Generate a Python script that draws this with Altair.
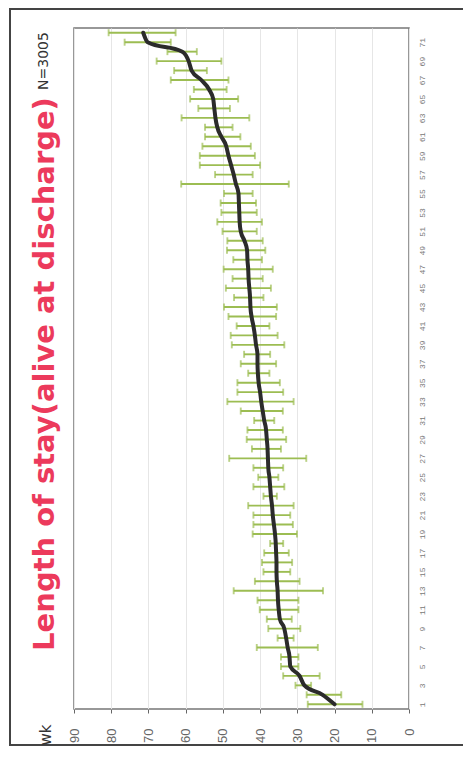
import altair as alt
import pandas as pd

# ---- data ----
weeks = list(range(1, 73))
mean_los = [20.0, 23.2, 28.1, 29.4, 31.9, 32.1, 32.6, 33.0, 33.5, 34.7,
            35.0, 35.2, 35.3, 35.5, 35.6, 35.6, 35.7, 35.8, 36.0, 36.3,
            36.6, 36.8, 37.1, 37.3, 37.5, 37.8, 37.9, 38.0, 38.2, 38.4,
            38.9, 39.3, 39.7, 40.0, 40.4, 40.6, 40.7, 40.7, 41.1, 41.4,
            41.8, 42.3, 42.6, 42.7, 42.9, 43.1, 43.2, 43.4, 43.5, 44.2,
            45.2, 45.5, 45.6, 45.7, 45.8, 46.5, 47.1, 47.8, 48.5, 49.1,
            50.4, 51.5, 52.0, 52.3, 52.6, 53.7, 55.8, 58.4, 59.2, 60.9,
            70.2, 71.4]
ci_low = [12.5, 18.2, 26.3, 24.0, 29.7, 29.7, 24.5, 31.0, 29.2, 31.5,
          29.7, 29.7, 23.1, 29.4, 31.9, 31.4, 32.3, 33.8, 30.1, 31.2,
          31.9, 31.0, 35.5, 33.5, 35.1, 33.8, 27.6, 34.4, 33.0, 33.9,
          36.2, 33.9, 31.0, 33.8, 34.7, 37.5, 35.7, 37.3, 33.5, 35.3,
          37.5, 35.7, 35.5, 39.1, 37.1, 39.3, 36.6, 39.5, 38.6, 39.3,
          40.9, 39.5, 40.9, 41.1, 42.0, 32.3, 42.0, 40.0, 41.4, 42.5,
          45.3, 47.4, 42.9, 48.1, 45.9, 49.0, 48.5, 54.3, 50.4, 57.0,
          64.0, 62.7]
ci_high = [27.2, 27.5, 30.5, 33.8, 34.4, 34.4, 40.9, 35.3, 37.8, 38.2,
           40.1, 40.7, 47.1, 41.4, 39.1, 39.5, 38.9, 37.3, 42.0, 41.8,
           41.8, 43.2, 39.1, 41.8, 40.5, 41.8, 48.3, 42.2, 43.6, 43.4,
           41.6, 45.2, 48.8, 46.1, 46.1, 43.2, 45.2, 44.3, 47.6, 47.9,
           46.3, 48.5, 49.7, 47.0, 49.2, 47.4, 49.8, 47.2, 48.9, 48.8,
           50.1, 51.5, 50.4, 50.6, 49.7, 61.2, 52.1, 56.2, 56.2, 55.5,
           54.8, 54.8, 61.1, 56.6, 58.8, 57.8, 64.0, 63.1, 67.8, 64.9,
           76.4, 80.7]
value_ticks = [0, 10, 20, 30, 40, 50, 60, 70, 80, 90]
week_ticks = list(range(1, 72, 2))
title_text = ["Length of stay(alive at discharge)"]
n_text = ["N=3005"]
axis_text = ["wk"]

df = pd.DataFrame({"wk": weeks, "mean": mean_los, "lo": ci_low, "hi": ci_high})

GREEN = "#9cbd52"
xs = alt.Scale(domain=[0, 90], reverse=True, nice=False)
ys = alt.Scale(domain=[0.5, 72.5], nice=False, zero=False)

xaxis = alt.Axis(values=value_ticks, orient="bottom", labelAngle=270,
                 labelAlign="right", labelBaseline="middle", labelPadding=15,
                 labelOverlap=False, labelFlush=False, labelBound=False,
                 tickSize=4, tickColor="#666", grid=True, gridColor="#e6e6e6",
                 domain=False, labelFont="Liberation Sans", labelFontSize=13,
                 labelColor="#666", title=None)
yaxis = alt.Axis(values=week_ticks, orient="right", labelAngle=270,
                 labelAlign="center", labelBaseline="top", labelPadding=9,
                 labelOverlap=False, labelFlush=False, labelBound=False,
                 ticks=False, grid=False, domain=False,
                 labelFont="Liberation Mono", labelFontSize=8,
                 labelColor="#777", title=None)

base = alt.Chart(df)
bars = base.mark_rule(color=GREEN, strokeWidth=1.9).encode(
    x=alt.X("lo:Q", scale=xs, axis=xaxis),
    x2="hi:Q",
    y=alt.Y("wk:Q", scale=ys, axis=yaxis),
)
cap_lo = base.mark_tick(orient="vertical", color=GREEN, size=7, thickness=1.9).encode(
    x=alt.X("lo:Q", scale=xs, axis=xaxis), y=alt.Y("wk:Q", scale=ys, axis=yaxis))
cap_hi = base.mark_tick(orient="vertical", color=GREEN, size=7, thickness=1.9).encode(
    x=alt.X("hi:Q", scale=xs, axis=xaxis), y=alt.Y("wk:Q", scale=ys, axis=yaxis))
line = base.mark_line(color="#2b2b2b", strokeWidth=4, interpolate="monotone",
                      strokeCap="round", strokeJoin="round").encode(
    x=alt.X("mean:Q", scale=xs, axis=xaxis), y=alt.Y("wk:Q", scale=ys, axis=yaxis),
    order="wk:Q")

title = alt.Chart(pd.DataFrame({"t": title_text})).mark_text(
    angle=270, align="center", baseline="middle", font="DejaVu Sans",
    fontWeight="bold", fontSize=29, color="#ec3a5c").encode(
    text="t:N", x=alt.value(-29), y=alt.value(346))
ntext = alt.Chart(pd.DataFrame({"t": n_text})).mark_text(
    angle=270, align="center", baseline="middle", font="DejaVu Sans",
    fontSize=14, color="#333").encode(
    text="t:N", x=alt.value(-30), y=alt.value(33))
wk = alt.Chart(pd.DataFrame({"t": axis_text})).mark_text(
    angle=270, align="center", baseline="middle", font="DejaVu Sans",
    fontSize=15, color="#333").encode(
    text="t:N", x=alt.value(-28), y=alt.value(707))
border = alt.Chart(pd.DataFrame({"t": [0]})).mark_rect(
    fillOpacity=0, stroke="#444", strokeWidth=2).encode(
    x=alt.value(-64), x2=alt.value(420), y=alt.value(-19), y2=alt.value(717))

chart = alt.layer(border, bars, cap_lo, cap_hi, line, title, ntext, wk).properties(
    width=335, height=681,
    padding={"left": 66, "top": 20, "right": 54, "bottom": 38},
    autosize=alt.AutoSizeParams(type="none"),
    background="white",
).configure_view(stroke="#777", strokeWidth=1.5).configure_axis(
    labelOverlap=False, labelFlush=False)

chart.save("out.html", embed_options={"renderer": "svg", "actions": False})
